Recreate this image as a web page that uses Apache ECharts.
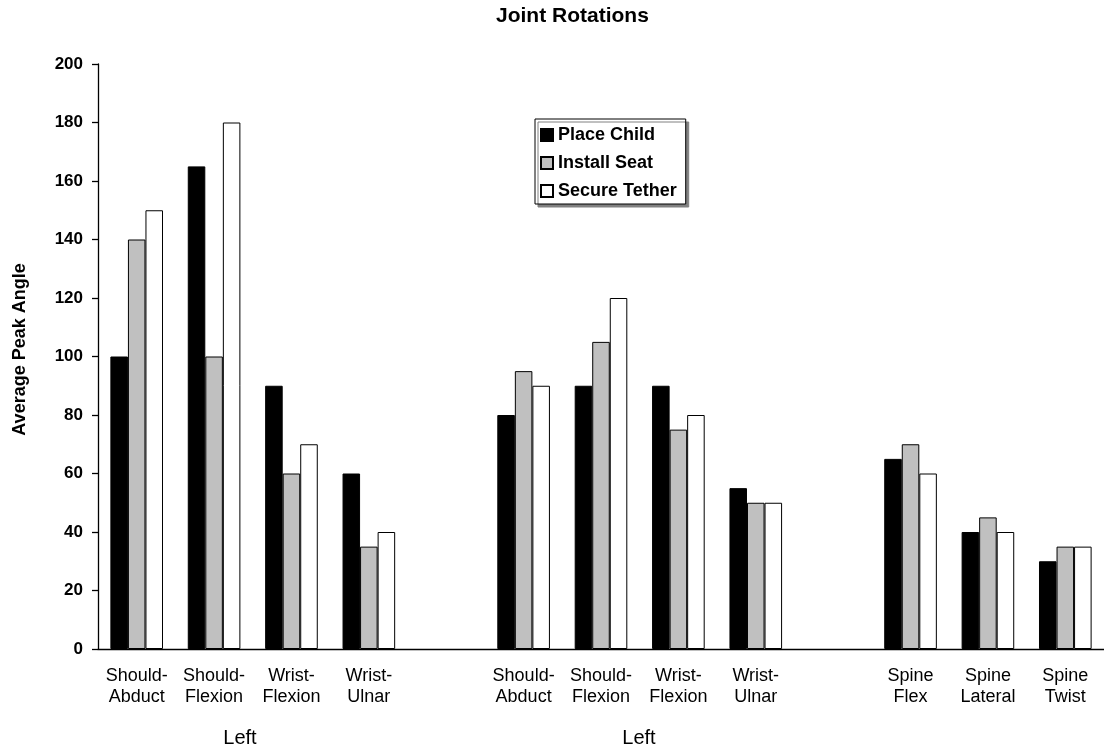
<!DOCTYPE html>
<html>
<head>
<meta charset="utf-8">
<title>Joint Rotations</title>
<script src="https://cdn.jsdelivr.net/npm/echarts@6/dist/echarts.min.js"></script>
<style>
  html, body { margin: 0; padding: 0; background: #ffffff; }
  #chart { width: 1104px; height: 751px; }
</style>
</head>
<body>
<div id="chart"></div>
<script>
// Joint categories; empty entries leave a gap between the groups
const categories = [
  'Should-\nAbduct', 'Should-\nFlexion', 'Wrist-\nFlexion', 'Wrist-\nUlnar', '',
  'Should-\nAbduct', 'Should-\nFlexion', 'Wrist-\nFlexion', 'Wrist-\nUlnar', '',
  'Spine\nFlex', 'Spine\nLateral', 'Spine\nTwist'
];

// Average peak angle per task
const placeChild   = [100, 165, 90, 60, '-', 80,  90, 90, 55, '-', 65, 40, 30];
const installSeat  = [140, 100, 60, 35, '-', 95, 105, 75, 50, '-', 70, 45, 35];
const secureTether = [150, 180, 70, 40, '-', 90, 120, 80, 50, '-', 60, 40, 35];

const seriesNames = ['Place Child', 'Install Seat', 'Secure Tether'];
const seriesColors = ['#000000', '#c0c0c0', '#ffffff'];

// Group captions under the category labels
const groupCaptions = [
  { text: 'Left', x: 240 },
  { text: 'Left', x: 639 }
];

const FONT = '"Liberation Sans", Arial, Helvetica, sans-serif';

const chart = echarts.init(document.getElementById('chart'), null, { renderer: 'canvas' });

const values = [placeChild, installSeat, secureTether];

chart.setOption({
  animation: false,
  backgroundColor: '#ffffff',
  title: {
    text: 'Joint Rotations',
    left: 496,
    top: 6,
    padding: 0,
    textStyle: { fontFamily: FONT, fontSize: 21, fontWeight: 'bold', color: '#000' }
  },
  legend: {
    data: seriesNames,
    orient: 'vertical',
    left: 535,
    top: 119,
    padding: [7, 9, 4, 5],
    itemWidth: 12,
    itemHeight: 12,
    itemGap: 10,
    icon: 'rect',
    borderColor: '#000',
    borderWidth: 1,
    backgroundColor: '#fff',
    shadowColor: '#808080',
    shadowBlur: 0,
    shadowOffsetX: 3,
    shadowOffsetY: 3,
    textStyle: { fontFamily: FONT, fontSize: 18, fontWeight: 'bold', color: '#000' }
  },
  grid: { left: 98, right: -8, top: 64, bottom: 102, containLabel: false },
  xAxis: {
    type: 'category',
    data: categories,
    axisLine: { show: true, onZero: true, lineStyle: { color: '#000', width: 1.3 } },
    axisTick: { show: false },
    axisLabel: {
      interval: 0,
      margin: 17,
      fontFamily: FONT,
      fontSize: 18,
      lineHeight: 21,
      color: '#000'
    },
    splitLine: { show: false }
  },
  yAxis: {
    type: 'value',
    min: 0,
    max: 200,
    interval: 20,
    name: 'Average Peak Angle',
    nameLocation: 'middle',
    nameRotate: 90,
    nameGap: 69,
    nameTextStyle: {
      fontFamily: FONT, fontSize: 18, fontWeight: 'bold', color: '#000',
      padding: [0, 0, 0, 14]
    },
    axisLine: { show: true, lineStyle: { color: '#000', width: 1.3 } },
    axisTick: { show: true, inside: false, length: 6, lineStyle: { color: '#000', width: 1.3 } },
    axisLabel: {
      margin: 15,
      fontFamily: FONT,
      fontSize: 17,
      fontWeight: 'bold',
      color: '#000'
    },
    splitLine: { show: false }
  },
  series: seriesNames.map((name, i) => ({
    name: name,
    type: 'bar',
    data: values[i],
    barGap: '0%',
    barCategoryGap: '32%',
    itemStyle: { color: seriesColors[i], borderColor: '#000', borderWidth: 1 }
  })),
  graphic: groupCaptions.map(c => ({
    type: 'text',
    x: c.x,
    y: 738,
    style: {
      text: c.text,
      fontFamily: FONT,
      fontSize: 20,
      fill: '#000',
      align: 'center',
      verticalAlign: 'middle'
    }
  }))
});
</script>
</body>
</html>
